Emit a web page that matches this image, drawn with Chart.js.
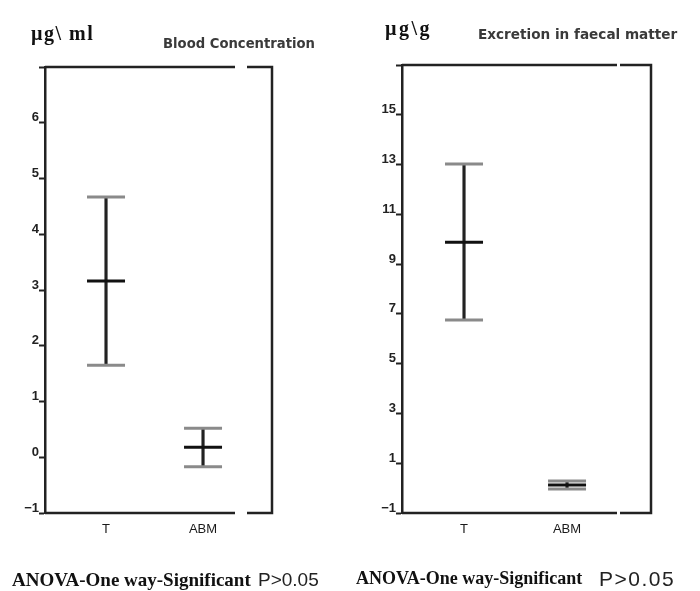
<!DOCTYPE html>
<html>
<head>
<meta charset="utf-8">
<script src="https://cdn.jsdelivr.net/npm/chart.js@4.4.1/dist/chart.umd.min.js"></script>
<style>
  body { margin: 0; background: #fff; }
  #page { position: relative; width: 700px; height: 591px; overflow: hidden; }
  .box { position: absolute; top: 0; width: 350px; height: 591px; }
  .txt { position: absolute; white-space: pre; line-height: 1; color: #222; }
  .unit { font-family: "Liberation Serif", serif; font-weight: bold; font-size: 20px; color: #111; }
  .head { font-family: "DejaVu Sans", sans-serif; font-weight: bold; color: #3a3a3a; }
  .anova { font-family: "Liberation Serif", serif; font-weight: bold; color: #111; }
  .pval { font-family: "Liberation Sans", sans-serif; color: #222; }
</style>
</head>
<body>
<div id="page">
  <div class="box" style="left:0"><canvas id="bloodChart" width="350" height="591"></canvas></div>
  <div class="box" style="left:350px"><canvas id="faecalChart" width="350" height="591"></canvas></div>

  <div class="txt unit" style="left:31px; top:23px; letter-spacing:1.5px">µg\ ml</div>
  <div class="txt head" style="left:163px; top:37px; font-size:13.2px">Blood Concentration</div>
  <div class="txt unit" style="left:385px; top:18px; letter-spacing:2.5px">µg\g</div>
  <div class="txt head" style="left:478px; top:28px; font-size:13.6px">Excretion in faecal matter</div>

  <div class="txt anova" style="left:12px; top:570px; font-size:19px">ANOVA-One way-Significant</div>
  <div class="txt pval" style="left:258px; top:570px; font-size:19px">P&gt;0.05</div>
  <div class="txt anova" style="left:356px; top:569px; font-size:18px">ANOVA-One way-Significant</div>
  <div class="txt pval" style="left:599px; top:568px; font-size:21px; letter-spacing:1.5px">P&gt;0.05</div>
</div>

<script>
// Kategori dan nilai
const categories = ['T', 'ABM'];

const bloodMean = [3.16, 0.18];
const bloodUpper = [4.67, 0.52];
const bloodLower = [1.65, -0.17];
const bloodTicks = [-1, 0, 1, 2, 3, 4, 5, 6, 7];

const faecalMean = [9.88, 0.12];
const faecalUpper = [13.02, 0.29];
const faecalLower = [6.75, -0.04];
const faecalTicks = [-1, 1, 3, 5, 7, 9, 11, 13, 15, 17];

// Bingkai atas/kanan/bawah dengan celah kecil di dekat sudut kanan
const framePlugin = {
  id: 'frame',
  afterDraw(chart, args, opts) {
    const { ctx, chartArea: a } = chart;
    ctx.save();
    ctx.strokeStyle = '#222';
    ctx.lineWidth = 2.5;
    ctx.beginPath();
    [a.top, a.bottom].forEach(y => {
      ctx.moveTo(a.left, y);
      ctx.lineTo(a.right - opts.gapFrom, y);
      ctx.moveTo(a.right - opts.gapTo, y);
      ctx.lineTo(a.right, y);
    });
    ctx.moveTo(a.right, a.top - 1.25);
    ctx.lineTo(a.right, a.bottom + 1.25);
    ctx.stroke();
    ctx.restore();
  }
};

function points(values) {
  return values.map((v, i) => ({ x: i + 1, y: v }));
}

function makeChart(id, mean, upper, lower, ticks, cfg) {
  const ctx = document.getElementById(id).getContext('2d');
  const yMax = ticks[ticks.length - 1];

  return new Chart(ctx, {
    type: 'bar',
    data: {
      datasets: [
        {
          type: 'scatter',
          label: 'mean',
          data: points(mean),
          pointStyle: 'line',
          pointRadius: 19,
          borderWidth: 3,
          borderColor: '#111'
        },
        {
          type: 'scatter',
          label: 'upper',
          data: points(upper),
          pointStyle: 'line',
          pointRadius: 19,
          borderWidth: 3,
          borderColor: '#8a8a8a'
        },
        {
          type: 'scatter',
          label: 'lower',
          data: points(lower),
          pointStyle: 'line',
          pointRadius: 19,
          borderWidth: 3,
          borderColor: '#8a8a8a'
        },
        {
          label: 'range',
          data: lower.map((v, i) => ({ x: i + 1, y: [v, upper[i]] })),
          backgroundColor: '#222',
          barThickness: 2.5,
          borderWidth: 0
        }
      ]
    },
    options: {
      responsive: false,
      animation: false,
      events: [],
      layout: {
        padding: { left: 0, top: cfg.top, right: cfg.right, bottom: 48 }
      },
      plugins: {
        legend: { display: false },
        tooltip: { enabled: false },
        frame: { gapFrom: cfg.gapFrom, gapTo: cfg.gapTo }
      },
      scales: {
        x: {
          type: 'linear',
          offset: false,
          min: cfg.xMin,
          max: cfg.xMax,
          afterBuildTicks: scale => {
            scale.ticks = categories.map((c, i) => ({ value: i + 1 }));
          },
          afterFit: scale => { scale.height = 30; },
          grid: { display: false, drawTicks: false },
          border: { display: false },
          ticks: {
            padding: 9,
            color: '#1a1a1a',
            font: { family: 'Liberation Sans', size: 13 },
            callback: value => categories[value - 1]
          }
        },
        y: {
          type: 'linear',
          min: ticks[0],
          max: yMax,
          afterBuildTicks: scale => {
            scale.ticks = ticks.map(v => ({ value: v }));
          },
          afterFit: scale => { scale.width = cfg.left; },
          grid: {
            drawOnChartArea: false,
            drawTicks: true,
            tickLength: 6,
            tickWidth: 2,
            tickColor: '#222'
          },
          border: { display: true, color: '#222', width: 2.5 },
          ticks: {
            padding: 0,
            labelOffset: -5,
            color: '#222',
            font: { family: 'Liberation Sans', size: 13, weight: 'bold' },
            callback: value => value === yMax ? '' : String(value).replace('-', '\u2212')
          }
        }
      }
    },
    plugins: [framePlugin]
  });
}

document.addEventListener('DOMContentLoaded', function () {
  makeChart('bloodChart', bloodMean, bloodUpper, bloodLower, bloodTicks,
    { left: 45, top: 67, right: 78, xMin: 0.371, xMax: 2.711, gapFrom: 37, gapTo: 25 });
  makeChart('faecalChart', faecalMean, faecalUpper, faecalLower, faecalTicks,
    { left: 52, top: 65, right: 49, xMin: 0.398, xMax: 2.815, gapFrom: 34, gapTo: 31 });
});
</script>
</body>
</html>
